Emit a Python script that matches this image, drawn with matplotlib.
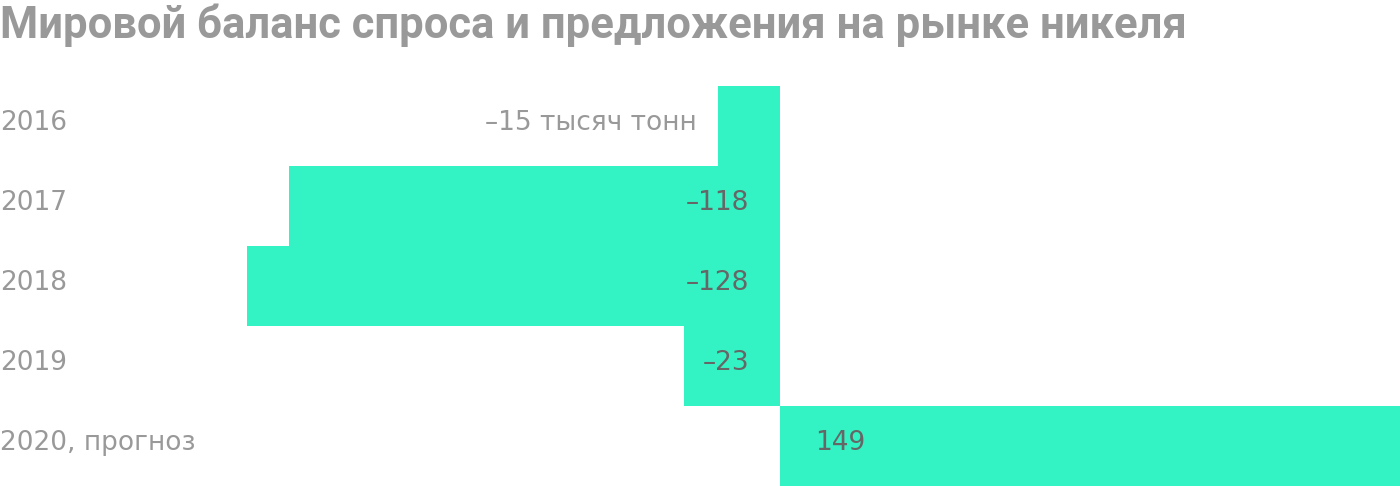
import matplotlib
matplotlib.use("Agg")
import matplotlib.pyplot as plt
from matplotlib.transforms import blended_transform_factory

title = "Мировой баланс спроса и предложения на рынке никеля"
categories = ["2016", "2017", "2018", "2019", "2020, прогноз"]
values = [-15, -118, -128, -23, 149]
value_labels = ["–15 тысяч тонн", "–118", "–128", "–23", "149"]

plt.rcParams['font.family'] = ['Roboto', 'DejaVu Sans']
label_font = ['DejaVu Sans']

W, H = 1400, 486
fig = plt.figure(figsize=(W / 100, H / 100), dpi=100)
ax_h_px = 400
ax = fig.add_axes([0, 0, 1, ax_h_px / H])

bar_color = "#33F2C4"
ypos = list(range(len(values)))
ax.barh(ypos, values, height=1.0, color=bar_color, linewidth=0)

xmax = max(values)
zero_frac = 780 / W
xmin = -xmax * zero_frac / (1 - zero_frac)
ax.set_xlim(xmin, xmax)
ax.set_ylim(len(values) - 0.5, -0.5)
ax.axis("off")

fs = 19
px = (xmax - xmin) / W          # data units per pixel (x)
py = len(values) / ax_h_px      # data units per pixel (y)
dy = -3 * py

trans = blended_transform_factory(ax.transAxes, ax.transData)
for y, c in zip(ypos, categories):
    ax.text(0.0, y + dy, c, transform=trans, ha="left", va="center",
            fontsize=fs, color="#999999", family=label_font)

for y, v, lab in zip(ypos, values, value_labels):
    if v < 0:
        if abs(v) / px > 80:
            ax.text(-31 * px, y + dy, lab, ha="right", va="center",
                    fontsize=fs, color="#666666", family=label_font)
        else:
            ax.text(v - 21 * px, y + dy, lab, ha="right", va="center",
                    fontsize=fs, color="#999999", family=label_font)
    else:
        ax.text(35 * px, y + dy, lab, ha="left", va="center",
                fontsize=fs, color="#666666", family=label_font)

fig.text(0.0, 1 - 38 / H, title, ha="left", va="baseline",
         fontsize=31.4, fontweight="bold", color="#999999")

fig.savefig("out.png", dpi=100)
